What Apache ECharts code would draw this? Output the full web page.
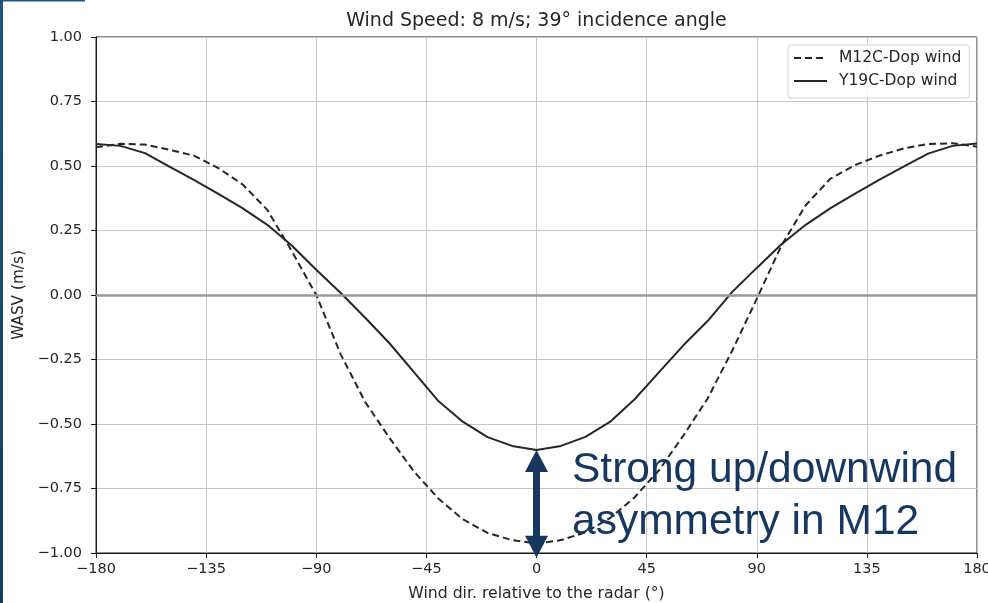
<!DOCTYPE html>
<html>
<head>
<meta charset="utf-8">
<script src="https://cdn.jsdelivr.net/npm/echarts@6/dist/echarts.min.js"></script>
<style>
html,body{margin:0;padding:0;background:#fff;}
#chart{width:988px;height:603px;}
</style>
</head>
<body>
<div id="chart"></div>
<script>
// ---- data ----
var angles = [-180,-170,-160,-150,-140,-130,-120,-110,-100,-90,-80,-70,-60,-50,-40,-30,-20,-10,0,
              10,20,30,40,50,60,70,80,90,100,110,120,130,140,150,160,170,180];
var m12c = [0.573,0.586,0.583,0.563,0.540,0.492,0.428,0.330,0.170,0.000,-0.230,-0.415,-0.555,-0.685,-0.790,-0.870,-0.922,-0.950,-0.963,
            -0.950,-0.920,-0.865,-0.785,-0.680,-0.545,-0.400,-0.215,-0.015,0.190,0.348,0.450,0.503,0.540,0.568,0.585,0.588,0.575];
var y19c = [0.585,0.578,0.550,0.498,0.446,0.392,0.336,0.272,0.192,0.098,0.008,-0.088,-0.188,-0.300,-0.412,-0.492,-0.551,-0.585,-0.601,
            -0.585,-0.550,-0.492,-0.405,-0.300,-0.195,-0.100,0.012,0.105,0.196,0.272,0.336,0.392,0.446,0.498,0.548,0.578,0.587];
var seriesNames = ['M12C-Dop wind','Y19C-Dop wind'];
var xTicks = {min:-180, max:180, step:45};
var yTicks = {min:-1, max:1, step:0.25};
var titleText = 'Wind Speed: 8 m/s; 39\u00b0 incidence angle';
var xName = 'Wind dir. relative to the radar (\u00b0)';
var yName = 'WASV (m/s)';
var annotationText = 'Strong up/downwind\nasymmetry in M12';
var arrowEnds = [-0.643, -0.976]; // annotation arrow (head centres), data units

function pairs(xs, ys){ return xs.map(function(x,i){ return [x, ys[i]]; }); }
function fmtY(v){ return (v < 0 ? '\u2212' : '') + Math.abs(v).toFixed(2); }
function fmtX(v){ return (v < 0 ? '\u2212' : '') + Math.abs(v); }

var TXT = '#262626';
var FONT = 'DejaVu Sans';
var NAVY = '#17375e';

var chart = echarts.init(document.getElementById('chart'), null, {renderer:'canvas'});
chart.setOption({
  animation:false,
  backgroundColor:'#fff',
  title:{
    text:titleText, left:536.5, top:11.5, padding:0, textAlign:'center',
    textStyle:{fontFamily:FONT, fontSize:19, fontWeight:'normal', color:TXT}
  },
  grid:{left:96, right:11, top:37, bottom:50, containLabel:false, outerBoundsMode:'none',
        show:true, borderColor:'#1a1a1a', borderWidth:1, backgroundColor:'transparent'},
  legend:{
    orient:'vertical', left:788, top:45,
    padding:[5,8,9,5], itemGap:7, itemWidth:33, itemHeight:12,
    backgroundColor:'rgba(255,255,255,0.8)', borderColor:'#d4d4d4', borderWidth:1, borderRadius:3,
    itemStyle:{opacity:0},
    textStyle:{fontFamily:FONT, fontSize:15.5, color:TXT, lineHeight:14, padding:[0,0,0,7]},
    data:[seriesNames[0], seriesNames[1]]
  },
  xAxis:{
    type:'value', min:xTicks.min, max:xTicks.max, interval:xTicks.step,
    name:xName, nameLocation:'middle', nameGap:33,
    nameTextStyle:{fontFamily:FONT, fontSize:15.7, color:TXT},
    axisLine:{show:true, onZero:false, lineStyle:{color:'#1a1a1a', width:1}},
    axisTick:{show:true, inside:false, length:5, lineStyle:{color:'#1a1a1a'}},
    axisLabel:{formatter:fmtX, fontFamily:FONT, fontSize:14.5, color:TXT, margin:9},
    splitLine:{show:true, lineStyle:{color:'#c8c8c8', width:1}}
  },
  yAxis:{
    type:'value', min:yTicks.min, max:yTicks.max, interval:yTicks.step,
    name:yName, nameLocation:'middle', nameGap:67, nameRotate:90,
    nameTextStyle:{fontFamily:FONT, fontSize:15.3, color:TXT},
    axisLine:{show:true, onZero:false, lineStyle:{color:'#1a1a1a', width:1}},
    axisTick:{show:true, inside:false, length:5, lineStyle:{color:'#1a1a1a'}},
    axisLabel:{formatter:fmtY, fontFamily:FONT, fontSize:14.5, color:TXT, margin:14},
    splitLine:{show:true, lineStyle:{color:'#c8c8c8', width:1}}
  },
  series:[
    {
      name:seriesNames[0], type:'line', data:pairs(angles, m12c), symbol:'none', smooth:false,
      lineStyle:{color:'#262626', width:2, type:[7,4]}, itemStyle:{color:'#262626'},
      z:3,
      markLine:{
        silent:true, symbol:['none','none'], animation:false,
        label:{show:false},
        lineStyle:{color:'#999999', width:2.5, type:'solid'},
        data:[{yAxis:0}]
      }
    },
    {
      name:seriesNames[1], type:'line', data:pairs(angles, y19c), symbol:'none', smooth:false,
      lineStyle:{color:'#262626', width:2, type:'solid'}, itemStyle:{color:'#262626'},
      z:3,
      markLine:{
        silent:true, symbol:['triangle','triangle'], symbolSize:[23,22], animation:false,
        label:{show:false},
        lineStyle:{color:NAVY, width:7, type:'solid', opacity:1},
        itemStyle:{color:NAVY},
        z:10,
        data:[[{coord:[0, arrowEnds[0]]},{coord:[0, arrowEnds[1]]}]]
      }
    }
  ],
  graphic:[
    {type:'rect', left:0, top:0, z:100, shape:{width:3, height:603},
     style:{fill:new echarts.graphic.LinearGradient(0,0,0,1,[{offset:0,color:'#1f5583'},{offset:1,color:'#173b60'}])}},
    {type:'rect', left:0, top:0, z:100, shape:{width:85, height:1.5}, style:{fill:'#1f5583'}},
    {type:'text', x:572, y:445, z:50,
     style:{text:annotationText, font:'42.5px "Liberation Sans", Arial, sans-serif', fill:NAVY, lineHeight:51.5, textAlign:'left', textVerticalAlign:'top'}}
  ]
});
</script>
</body>
</html>
